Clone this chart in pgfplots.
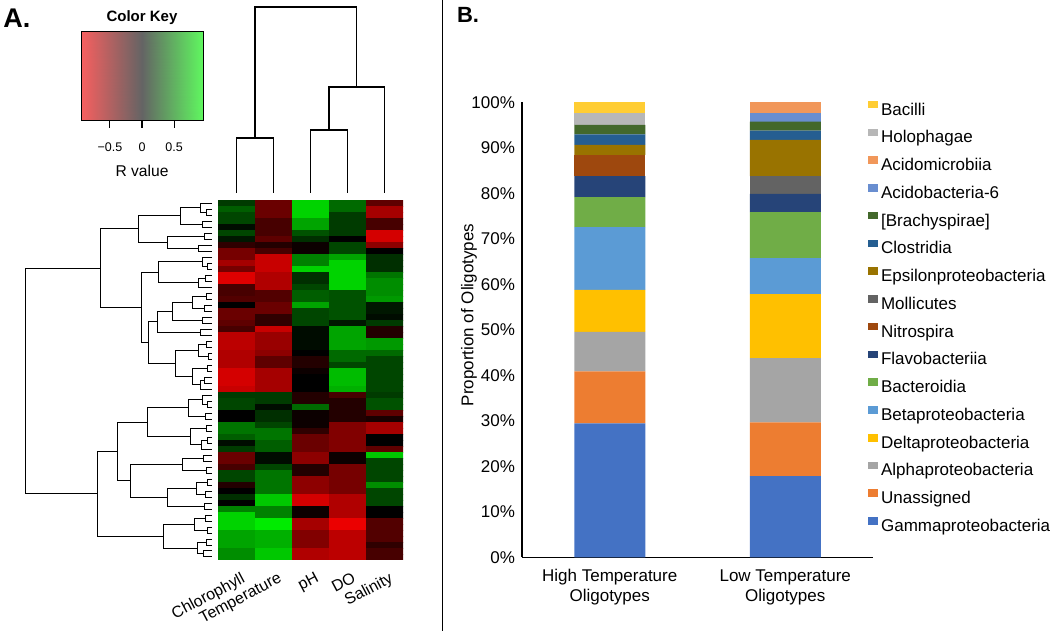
\documentclass[border=0pt]{standalone}
\usepackage{pgfplots}
\pgfplotsset{compat=1.18}
\usepackage{fontspec}
\setmainfont{Liberation Sans}
\definecolor{cGamma}{HTML}{4472C4}
\definecolor{cUnas}{HTML}{ED7D31}
\definecolor{cAlpha}{HTML}{A5A5A5}
\definecolor{cDelta}{HTML}{FFC000}
\definecolor{cBeta}{HTML}{5B9BD5}
\definecolor{cBacteroidia}{HTML}{70AD47}
\definecolor{cFlavo}{HTML}{264478}
\definecolor{cNitro}{HTML}{9E480E}
\definecolor{cMolli}{HTML}{636363}
\definecolor{cEpsilon}{HTML}{997300}
\definecolor{cClostr}{HTML}{255E91}
\definecolor{cBrachy}{HTML}{43682B}
\definecolor{cAcido}{HTML}{698ED0}
\definecolor{cAcidomi}{HTML}{F1975A}
\definecolor{cHolo}{HTML}{B7B7B7}
\definecolor{cBacilli}{HTML}{FFCD33}
\begin{document}
\begin{tikzpicture}
\path[use as bounding box] (0pt,0pt) rectangle (525pt,315.5pt);
\draw[line width=0.8pt] (221.25pt,0pt) -- (221.25pt,315.5pt);
\node[font=\bfseries\fontsize{13.5}{15}\selectfont] at (8.5pt,306.5pt) {A.};
\node[font=\bfseries\fontsize{11}{13}\selectfont] at (234pt,308pt) {B.};

% ---------- Color key ----------
\begin{axis}[at={(40.5pt,255pt)}, anchor=south west, scale only axis,
  width=61pt, height=44.5pt, enlargelimits=false, axis on top,
  xmin=-0.95, xmax=0.95, ymin=0, ymax=1, ytick=\empty,
  xtick={-0.5,0,0.5}, xticklabels={−0.5,0,0.5},
  xtick align=outside, xtick pos=bottom, major tick length=3.5pt,
  tick style={black, line width=0.6pt}, axis line style={line width=0.5pt},
  xticklabel style={font=\fontsize{6.25}{7.5}\selectfont, yshift=-4pt},
  title={Color Key}, title style={font=\bfseries\fontsize{7.5}{9}\selectfont, yshift=-6pt},
  xlabel={R value}, xlabel style={font=\fontsize{7.8}{9}\selectfont, yshift=0pt},
  colormap={key}{rgb255(0cm)=(255,95,95); rgb255(1cm)=(100,100,100); rgb255(2cm)=(95,255,95)},
  point meta min=-1, point meta max=1]
\addplot[surf, shader=interp, point meta=x] coordinates {
(-0.95,0) (0,0) (0.95,0)

(-0.95,1) (0,1) (0.95,1)
};
\end{axis}

% ---------- Column dendrogram ----------
\begin{axis}[at={(109pt,219pt)}, anchor=south west, scale only axis,
  width=92.5pt, height=93pt, xmin=-0.5, xmax=4.5, ymin=0, ymax=186,
  hide axis, clip=false]
\addplot[black, line width=0.6pt, unbounded coords=jump] coordinates {
(0,0) (0,55) (1,55) (1,0) (nan,nan)
(2,0) (2,63) (3,63) (3,0) (nan,nan)
(2.5,63) (2.5,106) (4,106) (4,0) (nan,nan)
(0.5,55) (0.5,186) (3.25,186) (3.25,106)
};
\end{axis}

% ---------- Row dendrogram ----------
\begin{axis}[at={(13pt,35.5pt)}, anchor=south west, scale only axis,
  width=93pt, height=180pt, xmin=0, xmax=186, x dir=reverse,
  ymin=-0.5, ymax=59.5, y dir=reverse, hide axis, clip=false]
\addplot[black, line width=0.5pt, unbounded coords=jump] coordinates {
(0,1) (6,1) (6,2) (0,2) (nan,nan)
(0,0) (12,0) (12,1.5) (6,1.5) (nan,nan)
(0,3) (10,3) (10,4) (0,4) (nan,nan)
(12,0.75) (32,0.75) (32,3.5) (10,3.5) (nan,nan)
(0,5) (8,5) (8,6) (0,6) (nan,nan)
(0,7) (14,7) (14,8) (0,8) (nan,nan)
(8,5.5) (45,5.5) (45,7.5) (14,7.5) (nan,nan)
(32,2.125) (74,2.125) (74,6.5) (45,6.5) (nan,nan)
(0,10) (5,10) (5,11) (0,11) (nan,nan)
(0,9) (10,9) (10,10.5) (5,10.5) (nan,nan)
(0,12) (7,12) (7,13) (0,13) (nan,nan)
(7,12.5) (14,12.5) (14,14) (0,14) (nan,nan)
(10,9.75) (54,9.75) (54,13.25) (14,13.25) (nan,nan)
(0,15) (6,15) (6,16) (0,16) (nan,nan)
(0,17) (8,17) (8,18) (0,18) (nan,nan)
(6,15.5) (20,15.5) (20,17.5) (8,17.5) (nan,nan)
(0,19) (10,19) (10,20) (0,20) (nan,nan)
(20,16.5) (40,16.5) (40,19.5) (10,19.5) (nan,nan)
(0,21) (12,21) (12,22) (0,22) (nan,nan)
(40,18) (55,18) (55,21.5) (12,21.5) (nan,nan)
(0,23) (6,23) (6,24) (0,24) (nan,nan)
(0,25) (4,25) (4,26) (0,26) (nan,nan)
(6,23.5) (14,23.5) (14,25.5) (4,25.5) (nan,nan)
(0,27) (5,27) (5,28) (0,28) (nan,nan)
(0,29) (8,29) (8,30) (0,30) (nan,nan)
(8,29.5) (12,29.5) (12,31) (0,31) (nan,nan)
(5,27.5) (20,27.5) (20,30.25) (12,30.25) (nan,nan)
(14,24.5) (37,24.5) (37,28.875) (20,28.875) (nan,nan)
(55,19.75) (64,19.75) (64,26.6875) (37,26.6875) (nan,nan)
(54,11.5) (71,11.5) (71,23.21875) (64,23.21875) (nan,nan)
(74,4.3125) (112,4.3125) (112,17.359375) (71,17.359375) (nan,nan)
(0,33) (5,33) (5,34) (0,34) (nan,nan)
(0,32) (10,32) (10,33.5) (5,33.5) (nan,nan)
(0,35) (7,35) (7,36) (0,36) (nan,nan)
(10,32.75) (24,32.75) (24,35.5) (7,35.5) (nan,nan)
(0,37) (6,37) (6,38) (0,38) (nan,nan)
(0,39) (5,39) (5,40) (0,40) (nan,nan)
(5,39.5) (11,39.5) (11,41) (0,41) (nan,nan)
(6,37.5) (22,37.5) (22,40.25) (11,40.25) (nan,nan)
(24,34.125) (65,34.125) (65,38.875) (22,38.875) (nan,nan)
(0,42) (9,42) (9,43) (0,43) (nan,nan)
(0,44) (6,44) (6,45) (0,45) (nan,nan)
(9,42.5) (30,42.5) (30,44.5) (6,44.5) (nan,nan)
(0,46) (5,46) (5,47) (0,47) (nan,nan)
(0,48) (7,48) (7,49) (0,49) (nan,nan)
(5,46.5) (16,46.5) (16,48.5) (7,48.5) (nan,nan)
(0,50) (8,50) (8,51) (0,51) (nan,nan)
(16,47.5) (45,47.5) (45,50.5) (8,50.5) (nan,nan)
(30,43.5) (82,43.5) (82,49) (45,49) (nan,nan)
(65,36.5) (95,36.5) (95,46.25) (82,46.25) (nan,nan)
(0,52) (7,52) (7,53) (0,53) (nan,nan)
(0,54) (5,54) (5,55) (0,55) (nan,nan)
(7,52.5) (18,52.5) (18,54.5) (5,54.5) (nan,nan)
(0,56) (6,56) (6,57) (0,57) (nan,nan)
(0,58) (9,58) (9,59) (0,59) (nan,nan)
(6,56.5) (15,56.5) (15,58.5) (9,58.5) (nan,nan)
(18,53.5) (49,53.5) (49,57.5) (15,57.5) (nan,nan)
(95,41.375) (115,41.375) (115,55.5) (49,55.5) (nan,nan)
(112,10.8359375) (186,10.8359375) (186,48.4375) (115,48.4375)
};
\end{axis}

% ---------- Heatmap ----------
\begin{axis}[at={(109pt,35.5pt)}, anchor=south west, scale only axis,
  width=92.5pt, height=180pt, enlargelimits=false,
  xmin=-0.5, xmax=4.5, ymin=-0.5, ymax=59.5, y dir=reverse,
  axis line style={draw=none}, ytick=\empty, xtick={0,1,2,3,4},
  xticklabels={Chlorophyll,Temperature,pH,DO,Salinity},
  xtick style={draw=none},
  xticklabel style={font=\fontsize{8}{9.6}\selectfont, xshift=2pt, yshift=-5.5pt, rotate=28, anchor=north east, inner sep=0pt},
  colormap={rg}{rgb255(0cm)=(235,0,0); rgb255(1cm)=(0,0,0); rgb255(2cm)=(0,235,0)},
  point meta min=-1, point meta max=1]
\addplot[matrix plot*, mesh/cols=5, point meta=explicit] coordinates {
(0,0)[0.25] (1,0)[-0.45] (2,0)[0.9] (3,0)[0.45] (4,0)[-0.4]
(0,1)[0.4] (1,1)[-0.45] (2,1)[0.9] (3,1)[0.45] (4,1)[-0.7]
(0,2)[0.3] (1,2)[-0.45] (2,2)[0.9] (3,2)[0.25] (4,2)[-0.7]
(0,3)[0.3] (1,3)[-0.3] (2,3)[0.7] (3,3)[0.25] (4,3)[-0.3]
(0,4)[0.05] (1,4)[-0.3] (2,4)[0.7] (3,4)[0.25] (4,4)[-0.3]
(0,5)[0.3] (1,5)[-0.3] (2,5)[0.35] (3,5)[0.25] (4,5)[-0.9]
(0,6)[0.1] (1,6)[-0.4] (2,6)[0.2] (3,6)[0.0] (4,6)[-0.9]
(0,7)[-0.2] (1,7)[-0.15] (2,7)[-0.05] (3,7)[0.3] (4,7)[-0.6]
(0,8)[-0.5] (1,8)[-0.3] (2,8)[-0.05] (3,8)[0.3] (4,8)[0.0]
(0,9)[-0.5] (1,9)[-0.85] (2,9)[0.55] (3,9)[0.7] (4,9)[0.2]
(0,10)[-0.7] (1,10)[-0.85] (2,10)[0.55] (3,10)[0.9] (4,10)[0.2]
(0,11)[-0.5] (1,11)[-0.85] (2,11)[0.9] (3,11)[0.9] (4,11)[0.2]
(0,12)[-0.95] (1,12)[-0.75] (2,12)[0.2] (3,12)[0.9] (4,12)[0.5]
(0,13)[-0.95] (1,13)[-0.75] (2,13)[0.2] (3,13)[0.9] (4,13)[0.6]
(0,14)[-0.3] (1,14)[-0.75] (2,14)[0.3] (3,14)[0.9] (4,14)[0.6]
(0,15)[-0.3] (1,15)[-0.35] (2,15)[0.4] (3,15)[0.35] (4,15)[0.6]
(0,16)[-0.35] (1,16)[-0.35] (2,16)[0.4] (3,16)[0.35] (4,16)[0.65]
(0,17)[0.0] (1,17)[-0.45] (2,17)[0.7] (3,17)[0.35] (4,17)[0.1]
(0,18)[-0.45] (1,18)[-0.45] (2,18)[0.3] (3,18)[0.35] (4,18)[0.1]
(0,19)[-0.45] (1,19)[-0.2] (2,19)[0.3] (3,19)[0.35] (4,19)[0.05]
(0,20)[-0.4] (1,20)[-0.2] (2,20)[0.3] (3,20)[0.1] (4,20)[0.25]
(0,21)[-0.3] (1,21)[-0.85] (2,21)[0.05] (3,21)[0.7] (4,21)[-0.15]
(0,22)[-0.8] (1,22)[-0.65] (2,22)[0.05] (3,22)[0.7] (4,22)[-0.15]
(0,23)[-0.8] (1,23)[-0.65] (2,23)[0.05] (3,23)[0.7] (4,23)[0.65]
(0,24)[-0.8] (1,24)[-0.65] (2,24)[0.05] (3,24)[0.7] (4,24)[0.65]
(0,25)[-0.75] (1,25)[-0.6] (2,25)[0.0] (3,25)[0.45] (4,25)[0.45]
(0,26)[-0.75] (1,26)[-0.4] (2,26)[-0.15] (3,26)[0.45] (4,26)[0.3]
(0,27)[-0.75] (1,27)[-0.4] (2,27)[-0.15] (3,27)[0.3] (4,27)[0.3]
(0,28)[-0.9] (1,28)[-0.7] (2,28)[-0.05] (3,28)[0.8] (4,28)[0.3]
(0,29)[-0.9] (1,29)[-0.7] (2,29)[0.0] (3,29)[0.8] (4,29)[0.3]
(0,30)[-0.9] (1,30)[-0.7] (2,30)[0.0] (3,30)[0.8] (4,30)[0.3]
(0,31)[-0.85] (1,31)[-0.7] (2,31)[0.0] (3,31)[0.75] (4,31)[0.3]
(0,32)[0.25] (1,32)[0.25] (2,32)[-0.15] (3,32)[-0.3] (4,32)[0.25]
(0,33)[0.3] (1,33)[0.25] (2,33)[-0.15] (3,33)[-0.15] (4,33)[0.35]
(0,34)[0.3] (1,34)[0.05] (2,34)[0.45] (3,34)[-0.15] (4,34)[0.35]
(0,35)[0.0] (1,35)[0.2] (2,35)[-0.05] (3,35)[-0.15] (4,35)[-0.4]
(0,36)[0.0] (1,36)[0.2] (2,36)[-0.05] (3,36)[-0.15] (4,36)[-0.1]
(0,37)[0.5] (1,37)[0.3] (2,37)[-0.05] (3,37)[-0.55] (4,37)[-0.7]
(0,38)[0.5] (1,38)[0.5] (2,38)[-0.2] (3,38)[-0.55] (4,38)[-0.7]
(0,39)[0.4] (1,39)[0.5] (2,39)[-0.45] (3,39)[-0.55] (4,39)[0.0]
(0,40)[0.05] (1,40)[0.4] (2,40)[-0.45] (3,40)[-0.55] (4,40)[0.0]
(0,41)[0.25] (1,41)[0.4] (2,41)[-0.45] (3,41)[-0.55] (4,41)[-0.4]
(0,42)[-0.45] (1,42)[0.05] (2,42)[-0.6] (3,42)[-0.05] (4,42)[0.85]
(0,43)[-0.45] (1,43)[0.05] (2,43)[-0.6] (3,43)[-0.05] (4,43)[0.3]
(0,44)[-0.3] (1,44)[0.3] (2,44)[-0.15] (3,44)[-0.5] (4,44)[0.3]
(0,45)[0.3] (1,45)[0.5] (2,45)[-0.15] (3,45)[-0.5] (4,45)[0.3]
(0,46)[0.3] (1,46)[0.5] (2,46)[-0.6] (3,46)[-0.5] (4,46)[0.3]
(0,47)[-0.15] (1,47)[0.5] (2,47)[-0.6] (3,47)[-0.5] (4,47)[0.6]
(0,48)[0.0] (1,48)[0.5] (2,48)[-0.6] (3,48)[-0.5] (4,48)[0.3]
(0,49)[0.2] (1,49)[0.85] (2,49)[-0.9] (3,49)[-0.75] (4,49)[0.3]
(0,50)[0.0] (1,50)[0.85] (2,50)[-0.9] (3,50)[-0.75] (4,50)[0.3]
(0,51)[0.55] (1,51)[0.55] (2,51)[-0.05] (3,51)[-0.75] (4,51)[0.0]
(0,52)[0.9] (1,52)[0.55] (2,52)[-0.05] (3,52)[-0.75] (4,52)[0.0]
(0,53)[0.9] (1,53)[1.0] (2,53)[-0.7] (3,53)[-1.0] (4,53)[-0.35]
(0,54)[0.9] (1,54)[1.0] (2,54)[-0.7] (3,54)[-1.0] (4,54)[-0.35]
(0,55)[0.7] (1,55)[0.75] (2,55)[-0.55] (3,55)[-0.8] (4,55)[-0.35]
(0,56)[0.7] (1,56)[0.75] (2,56)[-0.55] (3,56)[-0.8] (4,56)[-0.35]
(0,57)[0.7] (1,57)[0.75] (2,57)[-0.55] (3,57)[-0.8] (4,57)[-0.2]
(0,58)[0.6] (1,58)[0.85] (2,58)[-0.75] (3,58)[-0.8] (4,58)[-0.3]
(0,59)[0.6] (1,59)[0.85] (2,59)[-0.75] (3,59)[-0.8] (4,59)[-0.3]
};
\end{axis}

% ---------- Panel B: stacked bars ----------
\begin{axis}[at={(261pt,36.75pt)}, anchor=south west, scale only axis,
  width=175.5pt, height=227.5pt,
  ybar stacked, bar width=35.5pt,
  xmin=0.5, xmax=2.5, ymin=0, ymax=100,
  axis x line*=bottom, axis y line*=left,
  axis line style={line width=0.7pt},
  major tick length=0pt,
  xtick={1,2}, xticklabels={{High Temperature\\Oligotypes},{Low Temperature\\Oligotypes}},
  xticklabel style={align=center, font=\fontsize{8.5}{10}\selectfont, yshift=-2.5pt},
  ytick={0,10,...,100},
  yticklabels={0\%,10\%,20\%,30\%,40\%,50\%,60\%,70\%,80\%,90\%,100\%},
  yticklabel style={font=\fontsize{8.5}{10}\selectfont},
  ylabel={Proportion of Oligotypes},
  every axis y label/.style={at={(axis description cs:-0.151,0.533)}, rotate=90, anchor=center, font=\fontsize{8.5}{10}\selectfont},
  reverse legend, legend cell align=left,
  legend image code/.code={\fill[#1] (0pt,1.15pt) rectangle (4.8pt,4.95pt);},
  legend style={at={(0.986,1.0046)}, anchor=north west, draw=none, fill=none,
    inner sep=0pt, font=\fontsize{8.5}{10}\selectfont, row sep=4.33pt,
    nodes={inner sep=0.5pt, text height=6.3pt, text depth=1.9pt},
    /tikz/every odd column/.append style={column sep=1pt}},
  clip=false]
\addplot[fill=cGamma, draw=none] coordinates {(1,29.5) (2,17.9)};
\addlegendentry{Gammaproteobacteria}
\addplot[fill=cUnas, draw=none] coordinates {(1,11.4) (2,11.8)};
\addlegendentry{Unassigned}
\addplot[fill=cAlpha, draw=none] coordinates {(1,8.7) (2,14.1)};
\addlegendentry{Alphaproteobacteria}
\addplot[fill=cDelta, draw=none] coordinates {(1,9.2) (2,14.1)};
\addlegendentry{Deltaproteobacteria}
\addplot[fill=cBeta, draw=none] coordinates {(1,13.8) (2,7.9)};
\addlegendentry{Betaproteobacteria}
\addplot[fill=cBacteroidia, draw=none] coordinates {(1,6.6) (2,10.1)};
\addlegendentry{Bacteroidia}
\addplot[fill=cFlavo, draw=none] coordinates {(1,4.6) (2,4.0)};
\addlegendentry{Flavobacteriia}
\addplot[fill=cNitro, draw=none] coordinates {(1,4.7) (2,0)};
\addlegendentry{Nitrospira}
\addplot[fill=cMolli, draw=none] coordinates {(1,0) (2,3.9)};
\addlegendentry{Mollicutes}
\addplot[fill=cEpsilon, draw=none] coordinates {(1,2.2) (2,8.0)};
\addlegendentry{Epsilonproteobacteria}
\addplot[fill=cClostr, draw=none] coordinates {(1,2.3) (2,2.0)};
\addlegendentry{Clostridia}
\addplot[fill=cBrachy, draw=none] coordinates {(1,2.1) (2,2.0)};
\addlegendentry{[Brachyspirae]}
\addplot[fill=cAcido, draw=none] coordinates {(1,0) (2,1.9)};
\addlegendentry{Acidobacteria-6}
\addplot[fill=cAcidomi, draw=none] coordinates {(1,0) (2,2.3)};
\addlegendentry{Acidomicrobiia}
\addplot[fill=cHolo, draw=none] coordinates {(1,2.6) (2,0)};
\addlegendentry{Holophagae}
\addplot[fill=cBacilli, draw=none] coordinates {(1,2.3) (2,0)};
\addlegendentry{Bacilli}
\end{axis}
\end{tikzpicture}
\end{document}
